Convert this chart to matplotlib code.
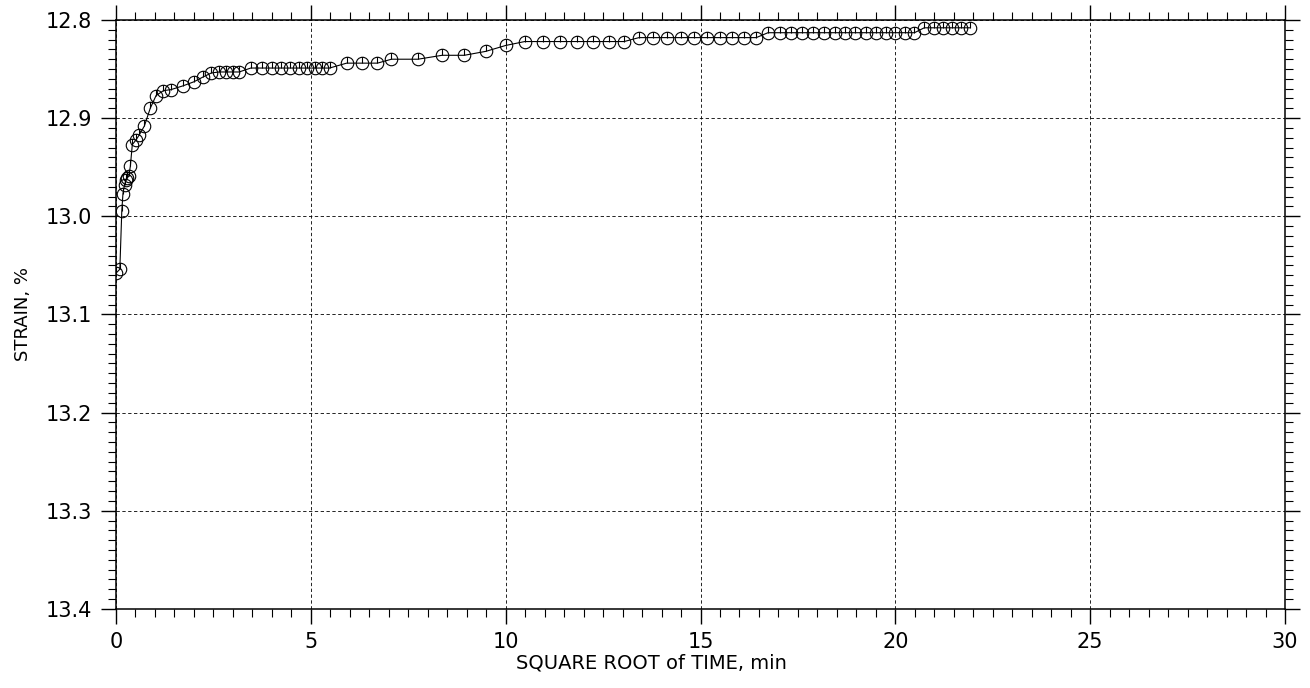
import matplotlib
matplotlib.use('Agg')
import matplotlib.pyplot as plt
from matplotlib.path import Path
from matplotlib.ticker import MultipleLocator, FormatStrFormatter

# square root of time (min^0.5) and strain (%)
sqrt_time = [0.0, 0.10, 0.15, 0.18, 0.22, 0.26, 0.29, 0.33, 0.37, 0.42,
             0.52, 0.60, 0.73, 0.88, 1.03, 1.22, 1.41, 1.73, 2.00, 2.24,
             2.45, 2.65, 2.83, 3.00, 3.16,
             3.46, 3.74, 4.00, 4.24, 4.47, 4.69, 4.90, 5.10, 5.29, 5.48,
             5.92, 6.32, 6.71, 7.07, 7.75, 8.37, 8.94, 9.49, 10.00,
             10.49, 10.95, 11.40, 11.83, 12.25, 12.65, 13.04,
             13.42, 13.78, 14.14, 14.49, 14.83, 15.17, 15.49, 15.81, 16.12, 16.43,
             16.73, 17.03, 17.32, 17.61, 17.89, 18.17, 18.44, 18.71, 18.97, 19.24,
             19.49, 19.75, 20.00, 20.25, 20.49,
             20.74, 20.98, 21.21, 21.45, 21.68, 21.91]

strain = [13.058, 13.054, 12.995, 12.977, 12.968, 12.963, 12.961, 12.959, 12.949, 12.927,
          12.922, 12.917, 12.908, 12.890, 12.877, 12.872, 12.871, 12.867, 12.863, 12.858,
          12.854, 12.853, 12.853, 12.853, 12.853,
          12.849, 12.849, 12.849, 12.849, 12.849, 12.849, 12.849, 12.849, 12.849, 12.849,
          12.844, 12.844, 12.844, 12.840, 12.840, 12.836, 12.836, 12.832, 12.826,
          12.822, 12.822, 12.822, 12.822, 12.822, 12.822, 12.822,
          12.818, 12.818, 12.818, 12.818, 12.818, 12.818, 12.818, 12.818, 12.818, 12.818,
          12.813, 12.813, 12.813, 12.813, 12.813, 12.813, 12.813, 12.813, 12.813, 12.813,
          12.813, 12.813, 12.813, 12.813, 12.813,
          12.808, 12.808, 12.808, 12.808, 12.808, 12.808]

# circle with a short vertical stroke from centre to top
circle = Path.unit_circle()
stroke = Path([[0, 0], [0, 1]], [Path.MOVETO, Path.LINETO])
marker_path = Path.make_compound_path(circle, stroke)

plt.rcParams['font.family'] = ['DejaVu Sans']

fig = plt.figure(figsize=(13.1, 6.88), dpi=100)
ax = fig.add_axes([0.0885, 0.115, 0.8925, 0.856])

ax.plot(sqrt_time, strain, color='black', lw=0.8,
        marker=marker_path, markersize=9, markerfacecolor='none',
        markeredgecolor='black', markeredgewidth=0.8)

ax.set_xlim(0, 30)
ax.set_ylim(13.4, 12.8)
ax.xaxis.set_major_locator(MultipleLocator(5))
ax.xaxis.set_minor_locator(MultipleLocator(0.5))
ax.yaxis.set_major_locator(MultipleLocator(0.1))
ax.yaxis.set_minor_locator(MultipleLocator(0.01))
ax.yaxis.set_major_formatter(FormatStrFormatter('%.1f'))

ax.tick_params(which='both', direction='out', top=True, right=True,
               labelsize=15, color='black')
ax.tick_params(which='major', length=11, width=1.0, pad=6)
ax.tick_params(which='minor', length=5.5, width=0.8)

ax.grid(True, which='major', color='black', linestyle=(0, (4, 3)), linewidth=0.6)
for s in ax.spines.values():
    s.set_linewidth(1.1)

ax.set_xlabel('SQUARE ROOT of TIME, min', fontsize=14)
ax.xaxis.set_label_coords(0.458, -0.075)
ax.set_ylabel('STRAIN, %', fontsize=13, labelpad=10)

fig.savefig('out.png', dpi=100)
